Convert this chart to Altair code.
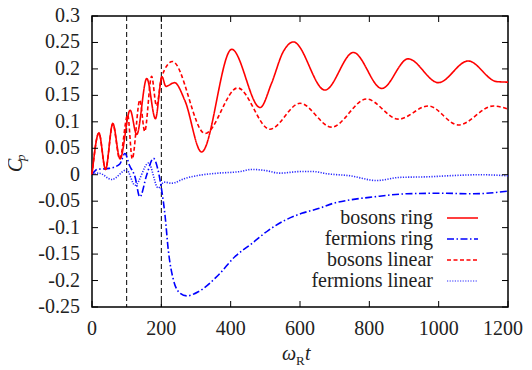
import altair as alt
import pandas as pd

series_names = ["bosons ring", "fermions ring", "bosons linear", "fermions linear"]
series_colors = ["#ff0000", "#0000ff", "#ff0000", "#2a2aff"]
series_dashes = [[1, 0], [7, 2.5, 1.5, 2.5], [4, 2.5], [1.2, 1.4]]
series_widths = [1.6, 1.6, 1.4, 1.2]

x_ticks = [0, 200, 400, 600, 800, 1000, 1200]
y_ticks = [-0.25, -0.2, -0.15, -0.1, -0.05, 0, 0.05, 0.1, 0.15, 0.2, 0.25, 0.3]
marker_times = [100, 200]

bosons_ring_t = [0, 20, 39, 60, 81, 110, 129, 158, 183, 202, 213, 238, 268, 316, 403, 485, 518, 552, 581,
                 672, 754, 836, 912, 999, 1085, 1167, 1200]
bosons_ring_c = [0, 0.079, 0.010, 0.097, 0.030, 0.122, 0.076, 0.182, 0.106, 0.185, 0.167, 0.174, 0.140, 0.043,
                 0.237, 0.127, 0.173, 0.233, 0.251, 0.160, 0.231, 0.163, 0.219, 0.174, 0.215, 0.176, 0.175]

bosons_linear_t = [0, 20, 39, 60, 80, 103, 116, 138, 152, 172, 186, 201, 232, 326, 420, 513, 600, 691, 792,
                   884, 970, 1057, 1158, 1200]
bosons_linear_c = [0, 0.079, 0.010, 0.096, 0.030, 0.113, 0.030, 0.141, 0.082, 0.186, 0.130, 0.185, 0.214,
                   0.078, 0.164, 0.086, 0.135, 0.090, 0.143, 0.105, 0.130, 0.094, 0.130, 0.124]

fermions_ring_t = [0, 15, 50, 80, 95, 108, 124, 138, 158, 177, 190, 201, 211, 220, 235, 254, 273, 307, 364,
                   412, 461, 509, 557, 605, 653, 696, 750, 811, 908, 1004, 1100, 1200]
fermions_ring_c = [0, 0.010, 0.012, 0.020, 0.040, 0.018, -0.004, -0.042, 0.000, 0.031, 0.010, -0.029, -0.079,
                   -0.142, -0.199, -0.224, -0.229, -0.221, -0.190, -0.155, -0.130, -0.105, -0.086, -0.073,
                   -0.064, -0.054, -0.047, -0.042, -0.036, -0.035, -0.036, -0.031]

fermions_linear_t = [0, 20, 57, 100, 124, 163, 191, 208, 230, 268, 320, 364, 427, 461, 500, 542, 600, 638,
                     676, 744, 821, 888, 965, 1061, 1119, 1200]
fermions_linear_c = [0, 0.003, -0.009, 0.009, -0.020, 0.022, -0.025, -0.014, -0.016, -0.007, 0.000, 0.003,
                     0.006, 0.010, 0.008, 0.003, 0.006, 0.006, 0.002, -0.002, -0.011, -0.005, -0.004, -0.001,
                     0.000, -0.002]

rows = []
for name, ts, cs in [
    ("bosons linear", bosons_linear_t, bosons_linear_c),
    ("fermions linear", fermions_linear_t, fermions_linear_c),
    ("fermions ring", fermions_ring_t, fermions_ring_c),
    ("bosons ring", bosons_ring_t, bosons_ring_c),
]:
    for t, c in zip(ts, cs):
        rows.append({"series": name, "t": t, "c": c})
df = pd.DataFrame(rows)

W, H = 416, 291
FONT = "Liberation Serif"
TXT = "#222"

xs = alt.Scale(domain=[0, 1200], nice=False, zero=False)
ys = alt.Scale(domain=[-0.25, 0.3], nice=False, zero=False)

lines = alt.Chart(df).mark_line(interpolate="monotone").encode(
    x=alt.X("t:Q", scale=xs, axis=None),
    y=alt.Y("c:Q", scale=ys, axis=None),
    color=alt.Color("series:N", scale=alt.Scale(domain=series_names, range=series_colors), legend=None),
    strokeDash=alt.StrokeDash("series:N", scale=alt.Scale(domain=series_names, range=series_dashes), legend=None),
    strokeWidth=alt.StrokeWidth("series:N", scale=alt.Scale(domain=series_names, range=series_widths), legend=None),
    detail="series:N",
)

vdf = pd.DataFrame({"v": marker_times})
vlines = alt.Chart(vdf).mark_rule(color="black", strokeWidth=1, strokeDash=[5, 3]).encode(
    x=alt.X("v:Q", scale=xs, axis=None)
)

ydf = pd.DataFrame({"v": y_ticks, "lab": [f"{v:g}" for v in y_ticks]})
xdf = pd.DataFrame({"v": x_ticks, "lab": [f"{v:d}" for v in x_ticks]})
x_max = max(x_ticks)
TL = 6
tick_layers = [
    alt.Chart(ydf).mark_rule(color="black", strokeWidth=1).encode(
        y=alt.Y("v:Q", scale=ys, axis=None), x=alt.value(0), x2=alt.value(TL)),
    alt.Chart(ydf).mark_rule(color="black", strokeWidth=1).encode(
        y=alt.Y("v:Q", scale=ys, axis=None), x=alt.value(W - TL), x2=alt.value(W)),
    alt.Chart(xdf).mark_rule(color="black", strokeWidth=1).encode(
        x=alt.X("v:Q", scale=xs, axis=None), y=alt.value(H), y2=alt.value(H - TL)),
    alt.Chart(xdf).mark_rule(color="black", strokeWidth=1).encode(
        x=alt.X("v:Q", scale=xs, axis=None), y=alt.value(0), y2=alt.value(TL)),
    alt.Chart(ydf).mark_text(font=FONT, fontSize=20, align="right", baseline="middle", color=TXT).encode(
        y=alt.Y("v:Q", scale=ys, axis=None), x=alt.value(-12), text="lab:N"),
    alt.Chart(xdf).transform_filter(f"datum.v < {x_max}").mark_text(
        font=FONT, fontSize=20, align="center", baseline="middle", color=TXT).encode(
        x=alt.X("v:Q", scale=xs, axis=None), y=alt.value(H + 22), text="lab:N"),
    alt.Chart(xdf).transform_filter(f"datum.v == {x_max}").mark_text(
        font=FONT, fontSize=20, align="right", baseline="middle", color=TXT, dx=15).encode(
        x=alt.X("v:Q", scale=xs, axis=None), y=alt.value(H + 22), text="lab:N"),
]

legend_rows_y = [202, 223, 244, 265]
legend_layers = []
for i, name in enumerate(series_names):
    ldf = pd.DataFrame({"label": [name]})
    legend_layers.append(
        alt.Chart(ldf).mark_text(font=FONT, fontSize=20, align="right", baseline="middle", color=TXT).encode(
            text="label:N", x=alt.value(341), y=alt.value(legend_rows_y[i]))
    )
    legend_layers.append(
        alt.Chart(ldf).mark_rule(color=series_colors[i], strokeDash=series_dashes[i],
                                 strokeWidth=series_widths[i]).encode(
            x=alt.value(355), x2=alt.value(386), y=alt.value(legend_rows_y[i]))
    )

title_parts = [
    ("ω", "italic", 20, 190, 344, 0),
    ("R", "normal", 13, 204, 349, 0),
    ("t", "italic", 20, 213, 344, 0),
    ("C", "italic", 20, -70, 156, 270),
    ("p", "italic", 13, -67, 145, 270),
]
title_layers = []
for txt, style, size, px, py, ang in title_parts:
    tdf = pd.DataFrame({"s": [txt]})
    title_layers.append(
        alt.Chart(tdf).mark_text(font=FONT, fontStyle=style, fontSize=size, align="left",
                                 baseline="alphabetic", angle=ang, color=TXT).encode(
            text="s:N", x=alt.value(px), y=alt.value(py))
    )

chart = alt.layer(vlines, lines, *tick_layers, *legend_layers, *title_layers).properties(
    width=W, height=H,
    autosize=alt.AutoSizeParams(type="none"),
    padding={"left": 84, "top": 8, "right": 16, "bottom": 62},
).configure_view(stroke="black", strokeWidth=1.5)

chart.save("out.html", embed_options={"renderer": "svg", "actions": False})
